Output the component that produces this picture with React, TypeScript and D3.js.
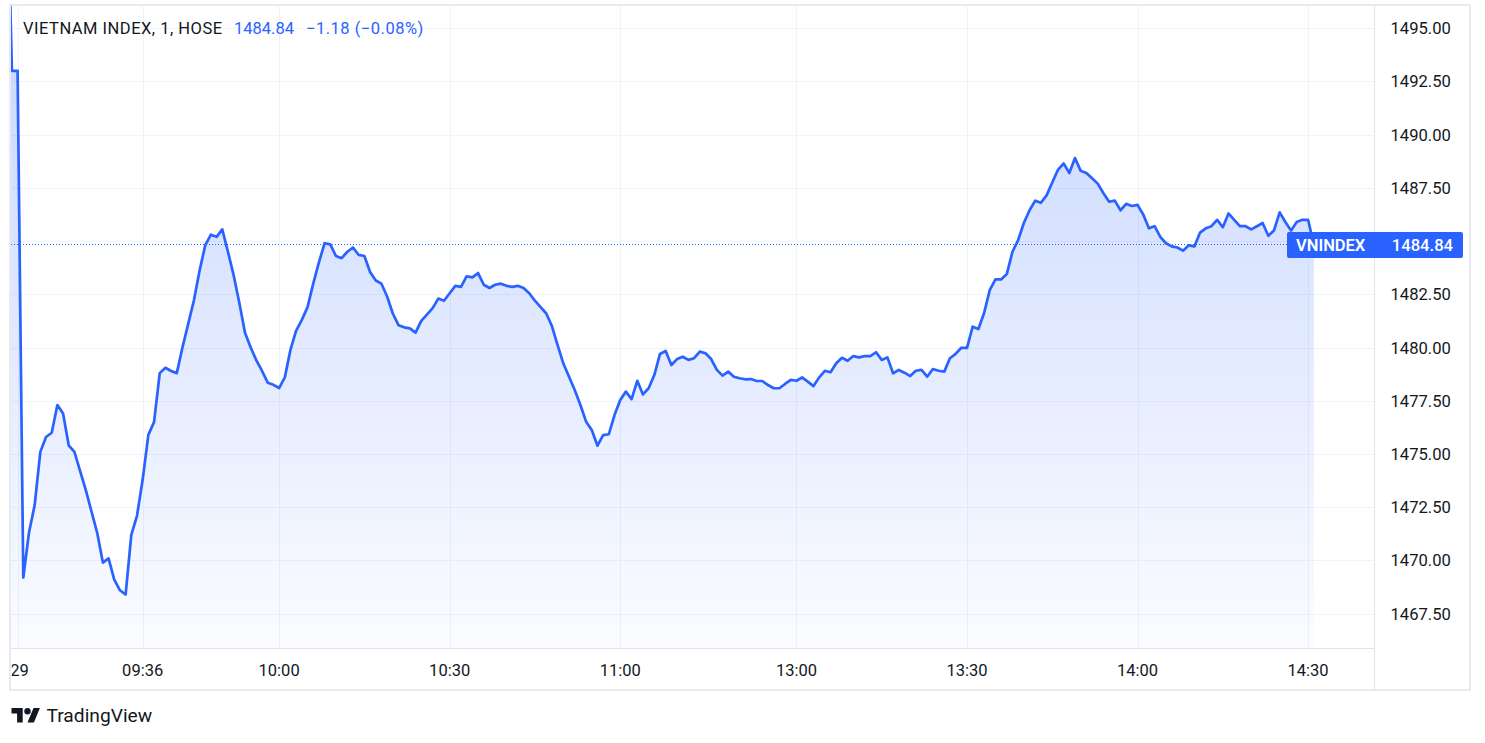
import React from "react";
import * as d3 from "d3";

// ---- data ----
const symbolTitle = "VIETNAM INDEX, 1, HOSE";
const seriesName = "VNINDEX";
const lastPrice = 1484.84;
const changeAbs = -1.18;
const changePct = -0.08;

// 1-minute closes, first element is bar index -2 (previous bars, clipped at the pane edge)
const firstBar = -2;
const prices = [
  1504.0, 1493.0,
  1493.0, 1469.2, 1471.3, 1472.6, 1475.1, 1475.8, 1476.0, 1477.3, 1476.9, 1475.4,
  1475.1, 1474.2, 1473.3, 1472.3, 1471.3, 1469.9, 1470.1, 1469.1, 1468.6, 1468.4,
  1471.2, 1472.1, 1473.8, 1475.9, 1476.5, 1478.8, 1479.05, 1478.9, 1478.8, 1480.0,
  1481.1, 1482.2, 1483.6, 1484.8, 1485.3, 1485.2, 1485.55, 1484.5, 1483.4, 1482.1,
  1480.7, 1480.0, 1479.4, 1478.9, 1478.35, 1478.25, 1478.1, 1478.6, 1479.9, 1480.8,
  1481.3, 1481.9, 1483.0, 1484.0, 1484.9, 1484.85, 1484.3, 1484.2, 1484.5, 1484.7,
  1484.35, 1484.3, 1483.55, 1483.15, 1483.0, 1482.4, 1481.6, 1481.05, 1480.95, 1480.9,
  1480.7, 1481.25, 1481.55, 1481.85, 1482.3, 1482.2, 1482.55, 1482.9, 1482.85, 1483.35,
  1483.3, 1483.5, 1482.95, 1482.8, 1482.95, 1483.0, 1482.9, 1482.85, 1482.9, 1482.8,
  1482.55, 1482.2, 1481.9, 1481.6, 1481.0, 1480.1, 1479.25, 1478.63, 1478.01, 1477.3,
  1476.52, 1476.13, 1475.39, 1475.89, 1475.93, 1476.83, 1477.54, 1477.93, 1477.58, 1478.44,
  1477.8, 1478.09, 1478.71, 1479.7, 1479.84, 1479.18, 1479.46, 1479.57, 1479.42, 1479.5,
  1479.81, 1479.73, 1479.46, 1478.95, 1478.68, 1478.87, 1478.63, 1478.56, 1478.51, 1478.52,
  1478.43, 1478.43, 1478.24, 1478.09, 1478.09, 1478.29, 1478.48, 1478.44, 1478.6, 1478.4,
  1478.19, 1478.6, 1478.91, 1478.84, 1479.26, 1479.52, 1479.38, 1479.6, 1479.54, 1479.6,
  1479.6, 1479.78, 1479.42, 1479.54, 1478.79, 1478.95, 1478.82, 1478.66, 1478.91, 1478.95,
  1478.63, 1478.99, 1478.91, 1478.87, 1479.5, 1479.7, 1479.99, 1479.99, 1480.98, 1480.87,
  1481.61, 1482.7, 1483.2, 1483.2, 1483.45, 1484.5, 1485.05, 1485.85, 1486.45, 1486.9,
  1486.8, 1487.15, 1487.75, 1488.35, 1488.65, 1488.2, 1488.9, 1488.3, 1488.2, 1487.95,
  1487.7, 1487.25, 1486.85, 1486.9, 1486.45, 1486.75, 1486.65, 1486.7, 1486.25, 1485.6,
  1485.7, 1485.2, 1484.9, 1484.75, 1484.7, 1484.55, 1484.8, 1484.75, 1485.4, 1485.6,
  1485.7, 1486.0, 1485.65, 1486.3, 1486.0, 1485.7, 1485.7, 1485.55, 1485.7, 1485.85,
  1485.25, 1485.5, 1486.35, 1485.9, 1485.5, 1485.9, 1486.0, 1486.0, 1484.84,
];

const priceTicks = [1467.5, 1470, 1472.5, 1475, 1477.5, 1480, 1482.5, 1485, 1487.5, 1490, 1492.5, 1495];
const priceTickLabels = ["1467.50", "1470.00", "1472.50", "1475.00", "1477.50", "1480.00", "1482.50", "1485.00", "1487.50", "1490.00", "1492.50", "1495.00"];
const timeTickBars = [0, 22, 46, 76, 106, 137, 167, 197, 227];
const timeTickLabels = ["29", "09:36", "10:00", "10:30", "11:00", "13:00", "13:30", "14:00", "14:30"];

// ---- layout ----
const W = 1485;
const H = 743;
const paneL = 11, paneR = 1374, paneT = 6, paneB = 648;
const frameR = 1470, frameB = 690;
const FONT = "Roboto, 'Noto Sans', sans-serif";
const BLUE = "#2962ff";
const TEXT = "#131722";
const GRID = "#f0f3fa";
const BORDER = "#e0e3eb";

export default function App() {
  const x = d3.scaleLinear().domain([0, 227]).range([17.6, 17.6 + 227 * 5.685]);
  const y = d3.scaleLinear().domain([1467.5, 1495]).range([613.7, 28.2]);

  const pts = prices.map((p, i) => ({ bar: i + firstBar, p }));
  const line = d3.line<any>().x((d) => x(d.bar)).y((d) => y(d.p));
  const area = d3
    .area<any>()
    .x((d) => x(d.bar))
    .y0(paneB)
    .y1((d) => y(d.p));

  // the 1485.00 axis label sits behind the last-price label
  const hiddenTick = 1485;

  const fmtSigned = (v: number) => (v < 0 ? "\u2212" + Math.abs(v).toFixed(2) : "+" + v.toFixed(2));
  const changeText = `${fmtSigned(changeAbs)} (${fmtSigned(changePct)}%)`;

  const labelY = y(lastPrice);

  return (
    <svg
      width={W}
      height={H}
      style={{ position: "absolute", left: 0, top: 0, background: "#fff" }}
      fontFamily={FONT}
    >
      <defs>
        <clipPath id="pane">
          <rect x={paneL} y={paneT} width={paneR - paneL} height={paneB - paneT} />
        </clipPath>
        <clipPath id="timeAxis">
          <rect x={paneL + 0.8} y={paneB} width={paneR - paneL} height={frameB - paneB} />
        </clipPath>
        <linearGradient id="areaGrad" gradientUnits="userSpaceOnUse" x1="0" y1={paneT} x2="0" y2={paneB}>
          <stop offset="0" stopColor={BLUE} stopOpacity={0.26} />
          <stop offset="1" stopColor={BLUE} stopOpacity={0.02} />
        </linearGradient>
      </defs>

      {/* frame */}
      <rect x={10} y={5} width={frameR - 10} height={frameB - 5} fill="#fff" stroke={BORDER} strokeWidth={1.5} />

      {/* grid */}
      <g clipPath="url(#pane)">
        {priceTicks.map((t) => (
          <line key={"h" + t} x1={paneL} x2={paneR} y1={Math.round(y(t)) + 0.5} y2={Math.round(y(t)) + 0.5} stroke={GRID} strokeWidth={1} />
        ))}
        {timeTickBars.map((b) => (
          <line key={"v" + b} x1={Math.round(x(b)) + 0.5} x2={Math.round(x(b)) + 0.5} y1={paneT} y2={paneB} stroke={GRID} strokeWidth={1} />
        ))}
      </g>

      {/* series */}
      <g clipPath="url(#pane)">
        <path d={area(pts) || ""} fill="url(#areaGrad)" />
        <line x1={paneL} x2={1290} y1={labelY} y2={labelY} stroke={BLUE} strokeWidth={1} strokeDasharray="1 2" />
        <path d={line(pts) || ""} fill="none" stroke={BLUE} strokeWidth={2.7} strokeLinejoin="round" strokeLinecap="round" />
      </g>

      {/* separators */}
      <line x1={paneL} x2={paneR} y1={paneB + 0.5} y2={paneB + 0.5} stroke={BORDER} strokeWidth={1} />
      <line x1={paneR + 0.5} x2={paneR + 0.5} y1={5} y2={frameB} stroke={BORDER} strokeWidth={1} />

      {/* header legend */}
      <text x={23} y={34.3} fontSize={16.5} letterSpacing={0.5} fill={TEXT}>{symbolTitle}</text>
      <text x={234} y={34.3} fontSize={16.5} fill={BLUE}>{lastPrice.toFixed(2)}</text>
      <text x={306} y={34.3} fontSize={16.5} letterSpacing={0.5} fill={BLUE}>{changeText}</text>

      {/* price axis */}
      {priceTicks.map((t, i) =>
        t === hiddenTick ? null : (
          <text key={"pl" + t} x={1390.5} y={y(t) + 6} fontSize={16.6} fill={TEXT}>
            {priceTickLabels[i]}
          </text>
        )
      )}

      {/* time axis */}
      <g clipPath="url(#timeAxis)">
        {timeTickBars.map((b, i) => (
          <text key={"tl" + b} x={x(b) + (i === 0 ? 2 : 0)} y={676} fontSize={16.5} fill={TEXT} textAnchor="middle">
            {timeTickLabels[i]}
          </text>
        ))}
      </g>

      {/* last price label */}
      <rect x={1287} y={labelY - 12.5} width={176} height={26} rx={2} fill={BLUE} />
      <text x={1296} y={labelY + 6} fontSize={16.5} fontWeight={600} fill="#fff">{seriesName}</text>
      <text x={1453} y={labelY + 6} fontSize={16.6} fontWeight={500} fill="#fff" textAnchor="end">
        {lastPrice.toFixed(2)}
      </text>

      {/* logo */}
      <g transform="translate(11.5,704.8) scale(0.8)" fill={TEXT}>
        <path d="M14 22H7V11H0V4h14v18zM28 22h-8l7.5-18h8L28 22z" />
        <circle cx={20} cy={8} r={4} />
      </g>
      <text x={46.5} y={721.5} fontSize={19.2} fill={TEXT}>TradingView</text>
    </svg>
  );
}
